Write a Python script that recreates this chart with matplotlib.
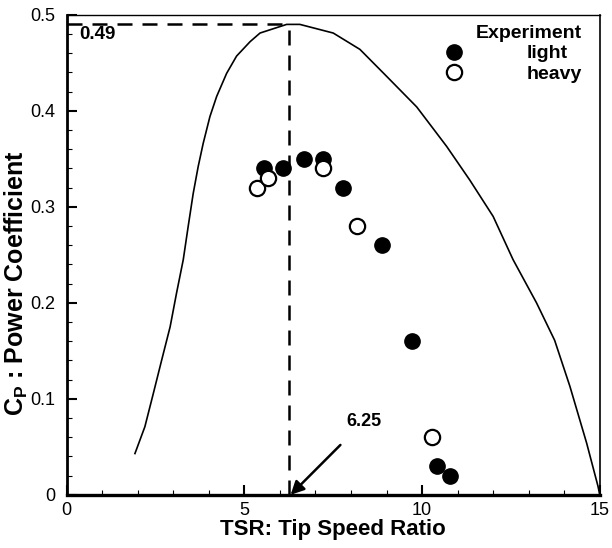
import numpy as np
import matplotlib.pyplot as plt
from matplotlib.ticker import MultipleLocator

plt.rcParams['font.family'] = ['Liberation Sans', 'DejaVu Sans']
plt.rcParams['mathtext.fontset'] = 'custom'
plt.rcParams['mathtext.bf'] = 'Liberation Sans:bold'
plt.rcParams['mathtext.rm'] = 'Liberation Sans'

# Curva teórica de Cp
tsr_curve = [1.92, 2.20, 2.44, 2.67, 2.91, 3.09, 3.28, 3.42, 3.56, 3.70, 3.84, 4.03,
             4.22, 4.50, 4.78, 5.16, 5.44, 6.19, 6.56, 7.50, 8.25, 9.00, 9.85, 10.69,
             11.34, 12.00, 12.56, 13.22, 13.73, 14.16, 14.63, 14.95, 15.0]
cp_curve = [0.043, 0.071, 0.106, 0.140, 0.175, 0.210, 0.245, 0.280, 0.314, 0.342, 0.366, 0.394,
            0.415, 0.439, 0.457, 0.472, 0.481, 0.490, 0.490, 0.481, 0.464, 0.436, 0.404, 0.363,
            0.328, 0.290, 0.245, 0.200, 0.161, 0.113, 0.054, 0.009, 0.0]

# Pontos experimentais
tsr_light = [5.55, 6.08, 6.68, 7.21, 7.77, 8.87, 9.71, 10.42, 10.78]
cp_light = [0.34, 0.34, 0.35, 0.35, 0.32, 0.26, 0.16, 0.03, 0.02]
tsr_heavy = [5.35, 5.66, 7.21, 8.17, 10.28]
cp_heavy = [0.32, 0.33, 0.34, 0.28, 0.06]

# Ponto de máximo
tsr_opt = 6.25
cp_max = 0.49

xticks = [0, 5, 10, 15]
xticklabels = ['0', '5', '10', '15']
yticks = [0, 0.1, 0.2, 0.3, 0.4, 0.5]
yticklabels = ['0', '0.1', '0.2', '0.3', '0.4', '0.5']

fig = plt.figure(figsize=(6.12, 5.48), dpi=100)
ax = fig.add_axes([0.109, 0.097, 0.871, 0.876])

ax.plot(tsr_curve, cp_curve, color='black', lw=1.2)
ax.plot([0, tsr_opt], [cp_max, cp_max], color='black', lw=1.8, ls=(0, (6, 4)))
ax.plot([tsr_opt, tsr_opt], [0, cp_max], color='black', lw=1.8, ls=(0, (6, 4)))

ax.plot(tsr_light, cp_light, 'o', color='black', ms=11, label='light')
ax.plot(tsr_heavy, cp_heavy, 'o', mfc='white', mec='black', mew=1.6, ms=11, label='heavy')

ax.text(0.35, 0.4885, '0.49', fontsize=13.5, fontweight='bold', va='top', ha='left')
ax.annotate('6.25', xy=(tsr_opt + 0.05, 0), xytext=(8.35, 0.076),
            fontsize=13, fontweight='bold', ha='center', va='center',
            arrowprops=dict(arrowstyle='-|>', color='black', lw=1.8,
                            mutation_scale=20, shrinkA=12, shrinkB=0))

ax.set_xlim(0, 15)
ax.set_ylim(0, 0.5)
ax.set_xticks(xticks)
ax.set_xticklabels(xticklabels)
ax.set_yticks(yticks)
ax.set_yticklabels(yticklabels)
ax.xaxis.set_minor_locator(MultipleLocator(1))
ax.yaxis.set_minor_locator(MultipleLocator(0.02))
ax.tick_params(which='both', direction='in', top=False, right=False, labelsize=13)
ax.tick_params(which='major', length=7, width=1.5)
ax.tick_params(which='minor', length=3.5, width=0.8)
ax.tick_params(axis='y', which='major', pad=8)
ax.tick_params(axis='x', which='major', pad=5)
ax.spines['left'].set_linewidth(2.0)
ax.spines['bottom'].set_linewidth(2.4)
ax.spines['top'].set_linewidth(1.0)
ax.spines['right'].set_linewidth(1.2)

ax.set_xlabel('TSR: Tip Speed Ratio', fontsize=16, fontweight='bold', labelpad=0)
ax.set_ylabel(r'C$_\mathbf{P}$ : Power Coefficient', fontsize=18, fontweight='bold')
ax.yaxis.set_label_coords(-0.068, 0.44)

leg = ax.legend(title='Experiment', loc='upper right', bbox_to_anchor=(0.966, 0.979),
                frameon=False, borderaxespad=0, borderpad=0, numpoints=1,
                handlelength=1, handletextpad=3.2, labelspacing=0.15,
                alignment='right', prop={'size': 14, 'weight': 'bold'})
leg.get_title().set_fontweight('bold')
leg.get_title().set_fontsize(14)

plt.savefig('out.png', dpi=100)
